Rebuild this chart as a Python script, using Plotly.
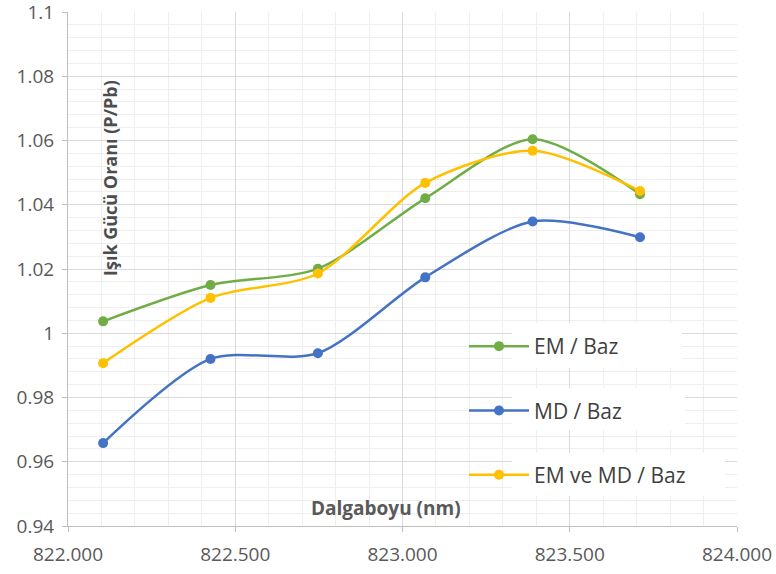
import plotly.graph_objects as go

wavelength = [822.105, 822.426, 822.747, 823.068, 823.389, 823.710]
em_baz = [1.0037, 1.0150, 1.0201, 1.0420, 1.0604, 1.0433]
md_baz = [0.9658, 0.9920, 0.9938, 1.0174, 1.0348, 1.0299]
em_md_baz = [0.9907, 1.0110, 1.0186, 1.0468, 1.0568, 1.0443]

series_names = ["EM / Baz", "MD / Baz", "EM ve MD / Baz"]
series_colors = ["#70AD47", "#4472C4", "#FFC000"]
series_values = [em_baz, md_baz, em_md_baz]

y_title = "Işık Gücü Oranı (P/Pb)"
x_title = "Dalgaboyu (nm)"

FONT = "Open Sans"

fig = go.Figure()
for i, (name, col, vals) in enumerate(zip(series_names, series_colors, series_values)):
    fig.add_trace(go.Scatter(
        x=wavelength, y=vals, name=name, mode="lines+markers",
        line=dict(color=col, width=2.5, shape="spline", smoothing=0.8),
        marker=dict(color=col, size=10),
        legendgroup=f"g{i}",
    ))

W, H = 776, 574
ml, mr, mt, mb = 68, 39, 12, 48
pw, ph = W - ml - mr, H - mt - mb

def px_x(p):
    return (p - ml) / pw

def px_y(p):
    return 1 - (p - mt) / ph

# white boxes behind legend texts
boxes = [(512, 682, 323, 368), (512, 685, 388, 430), (512, 725, 453, 496)]
for x0, x1, y0, y1 in boxes:
    fig.add_shape(type="rect", xref="paper", yref="paper",
                  x0=px_x(x0), x1=px_x(x1), y0=px_y(y1), y1=px_y(y0),
                  fillcolor="white", line=dict(width=0), layer="above")

fig.add_annotation(text="<b>" + y_title + "</b>", xref="paper", yref="paper",
                   x=px_x(110), y=px_y(178), textangle=-90,
                   xanchor="center", yanchor="middle",
                   showarrow=False, font=dict(family=FONT, size=18, color="#4d4d4d"))
fig.add_annotation(text="<b>" + x_title + "</b>", xref="paper", yref="paper",
                   x=px_x(386), y=px_y(508), xanchor="center", yanchor="middle",
                   showarrow=False, font=dict(family=FONT, size=19, color="#595959"))

fig.update_layout(
    width=W, height=H,
    margin=dict(l=ml, r=mr, t=mt, b=mb, autoexpand=False),
    paper_bgcolor="white", plot_bgcolor="white",
    font=dict(family=FONT, size=19, color="#595959"),
    showlegend=True,
    legend=dict(x=px_x(464), y=px_y(326), xanchor="left", yanchor="top",
                bgcolor="rgba(0,0,0,0)", tracegroupgap=34, itemwidth=60,
                font=dict(family=FONT, size=21, color="#404040")),
    xaxis=dict(range=[822, 824], dtick=0.5, tick0=822, tickformat=".3f",
               showgrid=True, gridcolor="#d9d9d9", gridwidth=1,
               minor=dict(dtick=0.1, showgrid=True, gridcolor="#eeeeee"),
               showline=True, linecolor="#bfbfbf", ticks="outside", ticklen=5,
               tickcolor="#bfbfbf", zeroline=False, automargin=False,
               ticklabelstandoff=6, ticklabeloverflow="allow"),
    yaxis=dict(range=[0.94, 1.1], dtick=0.02, tick0=0.94,
               showgrid=True, gridcolor="#d9d9d9", gridwidth=1,
               minor=dict(dtick=0.004, showgrid=True, gridcolor="#eeeeee"),
               showline=True, linecolor="#bfbfbf", ticks="outside", ticklen=5,
               tickcolor="#bfbfbf", zeroline=False, automargin=False,
               ticklabelstandoff=4, ticklabeloverflow="allow"),
)

fig.write_html("out.html", config={"displayModeBar": False},
               post_script="document.body.style.margin='0';")
